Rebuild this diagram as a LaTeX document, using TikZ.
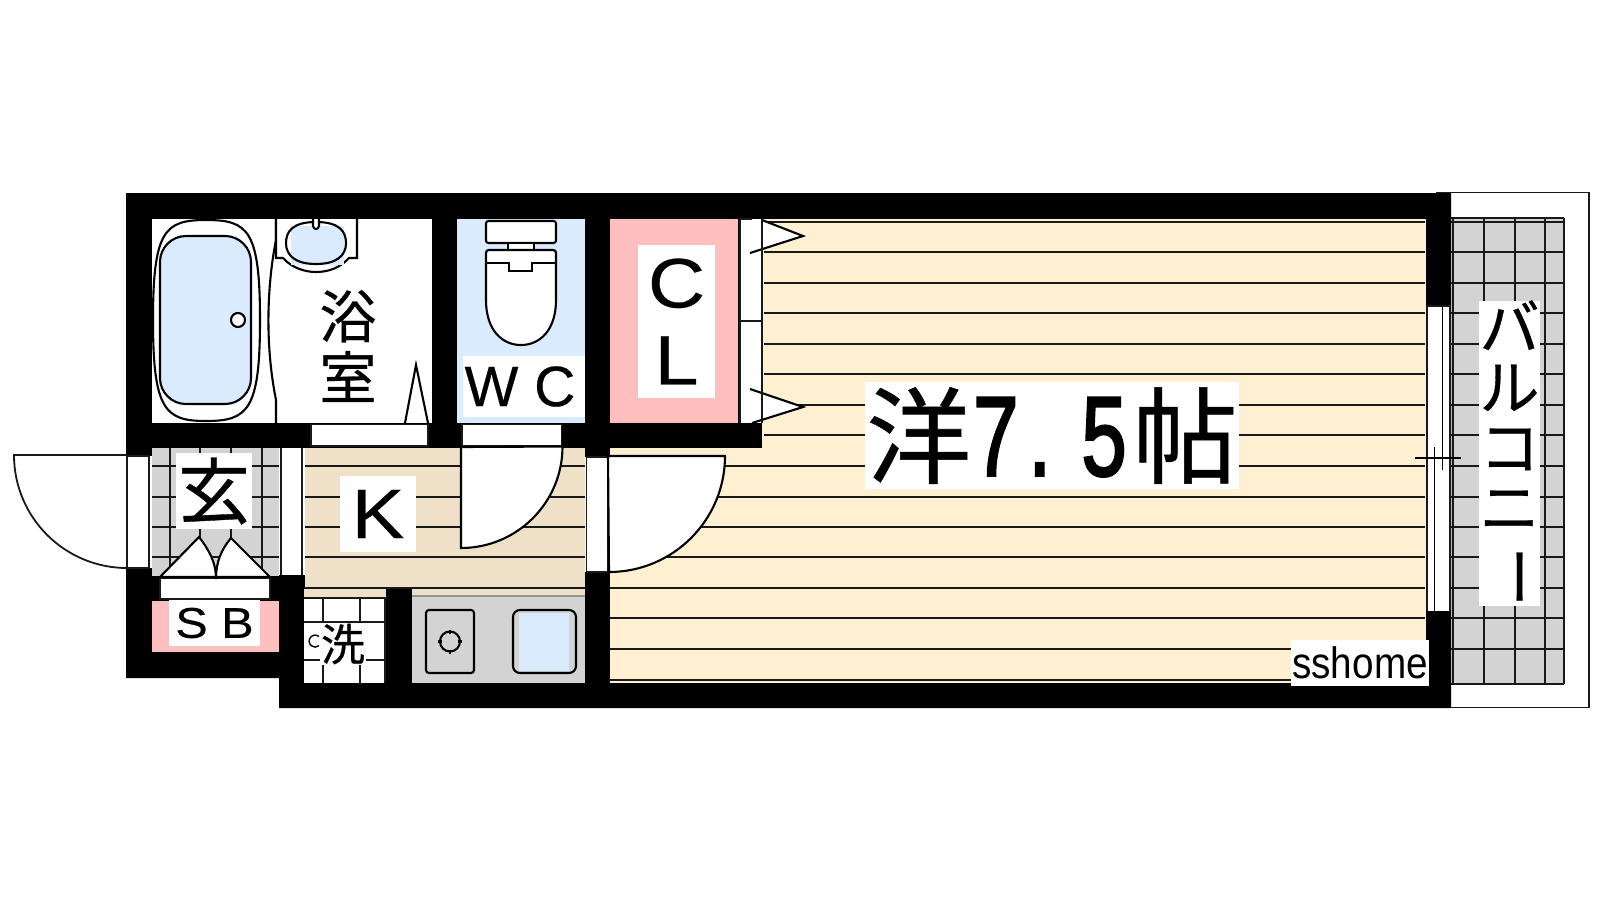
\documentclass[tikz,border=0pt]{standalone}
\usepackage{fontspec}
\usepackage{graphicx}
\setmainfont{Liberation Sans}
\newfontfamily\cjk[FakeBold=0.5]{Noto Sans CJK JP}
\newfontfamily\lat[FakeBold=0.4]{Liberation Sans}
\newfontfamily\digitf[FakeBold=2.5]{Liberation Sans}
\usetikzlibrary{positioning}
\definecolor{wblue}{RGB}{219,235,254}
\definecolor{wpink}{RGB}{255,191,191}
\definecolor{wcream}{RGB}{254,240,208}
\definecolor{wtan}{RGB}{239,224,200}
\definecolor{wgrey}{RGB}{211,211,211}
\definecolor{wline}{RGB}{25,25,25}
\tikzset{
  thin line/.style={draw=wline,line width=1.8pt},
  fix line/.style={draw=black,line width=2.1pt},
  lbl/.style={fill=white,inner sep=0pt,align=center,text=black},
  big/.style={font=\fontsize{#1}{#1}\selectfont},
}
\newcommand{\wide}[1]{\scalebox{1.13}[1]{#1}}
\begin{document}
\begin{tikzpicture}[x=1pt,y=-1pt]
\useasboundingbox (0,0) rectangle (1600,900);

% balcony
\draw[draw=wline,line width=1.8pt] (1437,192.5) rectangle (1589,707.5);
\fill[wgrey] (1451,218) rectangle (1564,684);
\foreach \y in {222,252,283,313,344,374,405,435,466,497,527,557,588,618,649} \draw[thin line] (1451,\y) -- (1564,\y);
\foreach \x in {1453,1484,1515,1545,1564} \draw[thin line] (\x,218) -- (\x,684);
\draw[thin line] (1451,218) -- (1564,218);
\draw[thin line] (1451,684) -- (1564,684);

% walls
\fill[black] (126,193) -- (1451,193) -- (1451,708) -- (279,708) -- (279,678) -- (126,678) -- cycle;

% rooms
\fill[white] (152,219) rectangle (432,423);
\fill[wblue] (457,219) rectangle (585,423);
\fill[wpink] (610,219) rectangle (738,423);
\fill[wcream] (762,219) rectangle (1426,448);
\fill[wcream] (610,448) rectangle (1426,683);
\fill[wgrey] (152,448) rectangle (279,576);
\fill[wtan] (305,448) rectangle (585,589);
\fill[wtan] (304,589) rectangle (386,598);
\fill[wtan] (412,589) rectangle (585,597);
\fill[wpink] (152,601) rectangle (279,652);
\fill[white] (304,598) rectangle (386,683);
\fill[wgrey] (412,597) rectangle (585,683);

% floor lines
\foreach \y in {222,252,283,313,344,374,405,435} \draw[thin line] (764,\y) -- (1425,\y);
\foreach \y in {466,497,527,557,588,618,649,680} \draw[thin line] (610,\y) -- (1425,\y);
\foreach \y in {466,497,527,557,588} \draw[thin line] (305,\y) -- (585,\y);
\draw[thin line,wgrey!70!black] (412,596) -- (585,596);

% entrance tiles
\foreach \y in {466,497,527,557} \draw[thin line] (152,\y) -- (279,\y);
\foreach \x in {170,200,231,262} \draw[thin line] (\x,448) -- (\x,576);

% wash tiles
\draw[thin line] (304,598) -- (385,598) -- (385,683);
\foreach \y in {622,660} \draw[thin line] (304,\y) -- (385,\y);
\foreach \x in {323,360} \draw[thin line] (\x,598) -- (\x,683);

% openings
\filldraw[fill=white,thin line] (311,424.5) rectangle (428,446);
\filldraw[fill=white,thin line] (462,424.5) rectangle (561.5,446);
\fill[white] (279,448) rectangle (305,575);
\draw[thin line] (281,448) -- (281,575);
\draw[thin line] (302,448) -- (302,575);
\fill[white] (127,456) rectangle (152,568);
\draw[thin line] (149,456) -- (127,456) -- (127,568) -- (149,568) -- cycle;
\fill[white] (585,457) rectangle (610,572);
\draw[thin line] (586.5,457) rectangle (608,572);

% doors
\draw[thin line] (127,455) -- (14,455) arc (180:90:113);
\filldraw[fill=white,fix line] (461,447) -- (461,548) arc (90:0:101.5) -- cycle;
\filldraw[fill=white,fix line] (608,456) -- (725,456) arc (0:90:116) -- cycle;
\fill[white] (740,219) rectangle (762,423);
\filldraw[fill=white,fix line] (750,253) -- (803,236) -- (762,220);
\filldraw[fill=white,fix line] (750,389) -- (803,407) -- (752,423);
\draw[thin line] (740,423) -- (740,219) -- (752,219);
\draw[thin line] (762,219) -- (762,423);
\draw[thin line] (740,321) -- (762,321);
\draw[fix line] (405,423) -- (416,365) -- (428,423);

% shoe box
\filldraw[fill=white,thin line] (160,578) rectangle (270,599);
\filldraw[fill=white,fix line] (160,577) -- (199,537) .. controls (209,550) and (216,562) .. (216,579) .. controls (216,562) and (221,550) .. (231,538) -- (270,577) -- cycle;

% bath
\draw[fix line] (276,219) -- (276,240) .. controls (268,280) and (264,340) .. (276,400) -- (276,423);
\filldraw[fill=white,fix line] (153,320) .. controls (153,230) and (165,220) .. (206,220) .. controls (248,220) and (260,230) .. (260,320) .. controls (260,410) and (248,421) .. (206,421) .. controls (165,421) and (153,410) .. (153,320) -- cycle;
\filldraw[fill=wblue,fix line,rounded corners=26pt] (160,236) rectangle (251,404);
\filldraw[fill=white,fix line] (238,320) circle (7);

% wash basin
\filldraw[fill=white,fix line] (276,219) -- (276,258) -- (283,258) .. controls (292,268) and (305,272) .. (316,272) .. controls (328,272) and (340,268) .. (349,258) -- (357,258) -- (357,219);
\fill[wblue] (291,226) rectangle (344,265);
\draw[fix line] (316,222) .. controls (340,222) and (346,232) .. (346,243) .. controls (346,256) and (336,264) .. (316,264) .. controls (296,264) and (286,256) .. (286,243) .. controls (286,232) and (292,222) .. (316,222) -- cycle;
\filldraw[fill=white,fix line] (313,219) -- (313,226) .. controls (314,230) and (318,230) .. (319,226) -- (319,219);

% toilet
\filldraw[fill=white,fix line,rounded corners=2.5pt] (486,221) rectangle (556,243);
\filldraw[fill=white,fix line] (508,243) rectangle (534,251);
\filldraw[fill=white,fix line] (486,300) -- (486,253) .. controls (486,251) and (487,250) .. (489,250) -- (553,250) .. controls (555,250) and (556,251) .. (556,253) -- (556,300) .. controls (556,330) and (540,345) .. (521,345) .. controls (502,345) and (486,330) .. (486,300) -- cycle;
\draw[fix line] (486,263) -- (509,263) -- (509,271) -- (532,271) -- (532,263) -- (556,263);

% stove and sink
\draw[fix line,rounded corners=3pt] (426,610) rectangle (474,673);
\draw[fix line] (450,641.5) circle (10);
\draw[fix line] (438,641.5) -- (442,641.5);
\draw[fix line] (458,641.5) -- (462,641.5);
\draw[fix line] (450,629.5) -- (450,633.5);
\draw[fix line] (450,649.5) -- (450,653.5);
\fill[wblue] (519,613) rectangle (569,671);
\draw[fix line,rounded corners=7pt] (513,610) rectangle (576,673);

% window
\fill[white] (1426,306) rectangle (1451,611);
\draw[thin line] (1427,306) -- (1427,611);
\draw[thin line] (1450,306) -- (1450,611);
\draw[thin line] (1426,306) -- (1451,306);
\draw[fix line,line width=1.5pt] (1442.5,306) -- (1442.5,470);
\draw[fix line,line width=1.5pt] (1434.5,447) -- (1434.5,611);
\draw[fix line,line width=1.2pt] (1415,458) -- (1461,458);

% drain
\draw[fix line,line width=1.4pt] (319,636.5) arc (-50:-310:6);

% labels
\node[lbl,big=57] (bathlbl) at (348,346) {\parbox{60pt}{\centering\lineskiplimit=-100pt\baselineskip=61pt\cjk 浴\\室}};
\node[lbl,big=57,minimum width=122pt,minimum height=61pt] (wclbl) at (524,386.5) {\lat W C\hspace{8pt}};
\node[lbl,big=70,minimum width=77pt,minimum height=153pt] (cllbl) at (676.5,321.5) {\parbox{77pt}{\centering\lineskiplimit=-100pt\baselineskip=77pt\lat \wide{C}\\\wide{L}}};
\node[lbl,big=72,minimum width=76pt,minimum height=76pt] (genlbl) at (214,491) {\cjk 玄};
\node[lbl,big=70,minimum width=76pt,minimum height=76pt] (klbl) at (378,514) {\lat\wide{K}};
\node[lbl,big=43,minimum width=91pt,minimum height=46pt] (sblbl) at (214.5,623) {\lat\wide{S B}};
\node[lbl,big=44,minimum width=46pt,minimum height=42pt] (washlbl) at (343,644) {\cjk 洗};
\node[lbl,big=105,minimum width=374pt,minimum height=107pt] (roomlbl) at (1052,435.5) {\cjk 洋\hspace{2pt}\scalebox{.72}[1]{\fontsize{113}{113}\digitf 7\hspace{14pt}.\hspace{42pt}5}\hspace{6pt}帖};
\node[lbl,big=60,minimum width=61pt,minimum height=305pt] (balclbl) at (1509.5,453.5) {\parbox[c][305pt][c]{61pt}{\centering\lineskiplimit=-100pt\baselineskip=60pt\cjk バ\\ル\\コ\\ニ\\\rotatebox[origin=c]{-90}{ー}}};
\node[lbl,big=44,minimum width=138pt,minimum height=46pt] (brandlbl) at (1360,663) {\scalebox{.88}[1]{sshome}};
\end{tikzpicture}
\end{document}
